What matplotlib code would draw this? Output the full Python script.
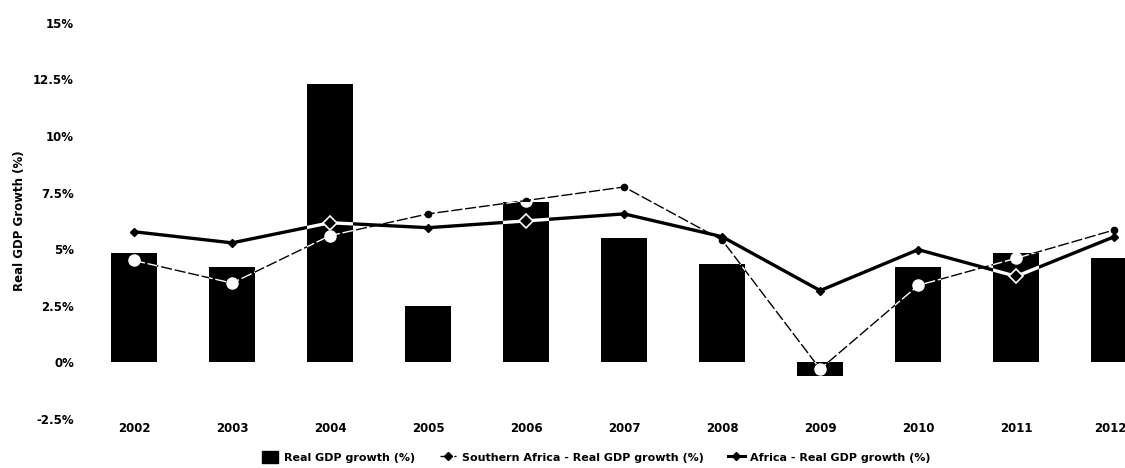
import numpy as np
import matplotlib
matplotlib.use("Agg")
import matplotlib.pyplot as plt
import matplotlib.transforms as mtransforms
from matplotlib.ticker import FuncFormatter
from matplotlib.patches import Patch
from matplotlib.lines import Line2D

# ── data ─────────────────────────────────────────────────────────────────────
years = ["2002", "2003", "2004", "2005", "2006", "2007", "2008", "2009", "2010", "2011", "2012"]
gdp_growth = [4.85, 4.23, 12.3, 2.47, 7.09, 5.5, 4.36, -0.62, 4.23, 4.85, 4.63]
southern_africa = [4.5, 3.5, 5.6, 6.56, 7.15, 7.75, 5.4, -0.3, 3.4, 4.6, 5.85]
africa = [5.77, 5.28, 6.17, 5.95, 6.25, 6.56, 5.55, 3.17, 4.98, 3.8, 5.55]
y_ticks = [-2.5, 0, 2.5, 5, 7.5, 10, 12.5, 15]

plt.rcParams["font.family"] = ["DejaVu Sans"]
plt.rcParams["font.weight"] = "bold"

fig = plt.figure(figsize=(11.25, 4.68), dpi=100)
ax = fig.add_axes([0.0756, 0.105, 0.9244, 0.846])

x = np.arange(len(years))
bars = ax.bar(x, gdp_growth, width=0.47, color="black", zorder=1)

# lines, drawn black on the white background
sa_dash = (0, (8, 2))
ax.plot(x, southern_africa, color="black", lw=1.0, ls=sa_dash,
        marker="o", ms=4.5, zorder=3)
ax.plot(x, africa, color="black", lw=2.4, marker="D", ms=4.5, zorder=4)

# the same lines show up white where they run over the black bars
for b in bars:
    l1, = ax.plot(x, southern_africa, color="white", lw=1.0, ls=sa_dash,
                  marker="o", ms=8, mfc="white", mec="white", zorder=5)
    l2, = ax.plot(x, africa, color="white", lw=2.4, marker="D", ms=7,
                  mfc="black", mec="white", mew=1.2, zorder=6)
    l1.set_clip_path(b)
    l2.set_clip_path(b)

ax.set_xlim(-0.5, 10.11)
ax.set_ylim(-2.5, 15)
ax.set_yticks(y_ticks)
ax.yaxis.set_major_formatter(FuncFormatter(lambda v, p: f"{v:g}%"))
ax.set_xticks(x)
ax.set_xticklabels(years)
ax.tick_params(axis="both", length=0, labelsize=8.5, pad=8)
ax.tick_params(axis="x", pad=2)
for s in ax.spines.values():
    s.set_visible(False)
ax.set_ylabel("Real GDP Growth (%)", fontsize=8.5, fontweight="bold", labelpad=5)

# last year label sits against the right edge; nudge it in a little
last = ax.get_xticklabels()[-1]
last.set_transform(last.get_transform() +
                   mtransforms.ScaledTranslation(-4 / 100, 0, fig.dpi_scale_trans))

handles = [
    Patch(facecolor="black", edgecolor="black"),
    Line2D([], [], color="black", lw=1.0, ls=(0, (3, 2)), marker="D", ms=4),
    Line2D([], [], color="black", lw=2.2, marker="D", ms=4),
]
labels = ["Real GDP growth (%)", "Southern Africa - Real GDP growth (%)",
          "Africa - Real GDP growth (%)"]
fig.legend(handles, labels, loc="lower center", bbox_to_anchor=(0.53, -0.01),
           ncol=3, frameon=False, fontsize=8, handlelength=1.5, handleheight=1.2,
           handletextpad=0.5, columnspacing=2.2)

fig.savefig("out.png", dpi=100)
